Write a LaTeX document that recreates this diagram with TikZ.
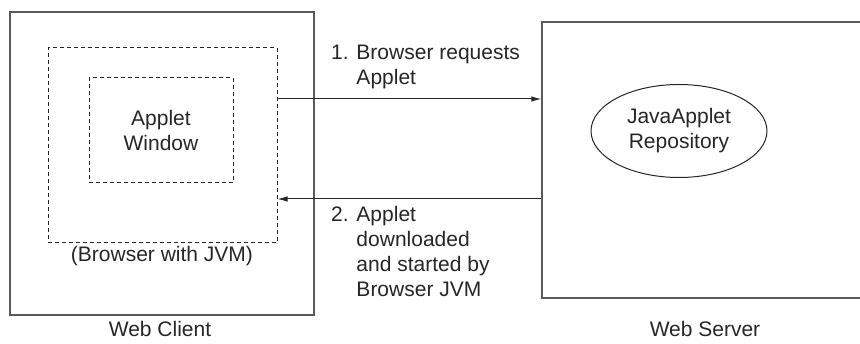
\documentclass[tikz,border=0pt]{standalone}
\usepackage{fontspec}
\setmainfont{Liberation Sans}
\usetikzlibrary{arrows.meta,shapes.geometric}
\definecolor{boxgray}{HTML}{5A5A5A}
\tikzset{
    solidbox/.style={draw=boxgray,line width=1.5pt,inner sep=0pt},
    dashbox/.style={draw=black!85,line width=1pt,dash pattern=on 4pt off 3pt,inner sep=0pt},
    msg/.style={->,line width=1pt,black!85},
    lbl/.style={font=\fontsize{21}{25}\selectfont,text=black!85,inner sep=0pt}
}
\begin{document}
\begin{tikzpicture}[x=1pt,y=-1pt,>={Latex[length=10pt,width=5.5pt]}]
        \useasboundingbox (0,0) rectangle (860,344);
        \clip (0,0) rectangle (860,344);
        % client side
        \node[solidbox,minimum width=304pt,minimum height=303pt] (client) at (162,163.5) {};
        \node[dashbox,minimum width=229pt,minimum height=195pt] (browser) at (162.5,145.5) {};
        \node[dashbox,minimum width=144pt,minimum height=105pt,lbl,align=center] (applet) at (161,130.5) {Applet\\Window};
        \node[lbl] (jvm) at (162,256) {(Browser with JVM)};
        \node[lbl] (clientlbl) at (160,329) {Web Client};
        % server side
        \node[solidbox,minimum width=330pt,minimum height=276pt] (server) at (707,160) {};
        \node[draw=black!85,line width=1pt,ellipse,minimum width=176pt,minimum height=93pt,lbl,align=center] (repo) at (679,131) {JavaApplet\\Repository};
        \node[lbl] (serverlbl) at (705,329) {Web Server};
        % messages
        \draw[msg] (browser.east |- 0,99) -- (server.west |- 0,99);
        \draw[msg] (server.west |- 0,199) -- (browser.east |- 0,199);
        \node[lbl,align=left,anchor=north west] (req) at (331,45) {1. Browser requests\\\phantom{1. }Applet};
        \node[lbl,align=left,anchor=north west] (dl) at (331,206) {2. Applet\\\phantom{2. }downloaded\\\phantom{2. }and started by\\\phantom{2. }Browser JVM};
    \end{tikzpicture}
\end{document}
